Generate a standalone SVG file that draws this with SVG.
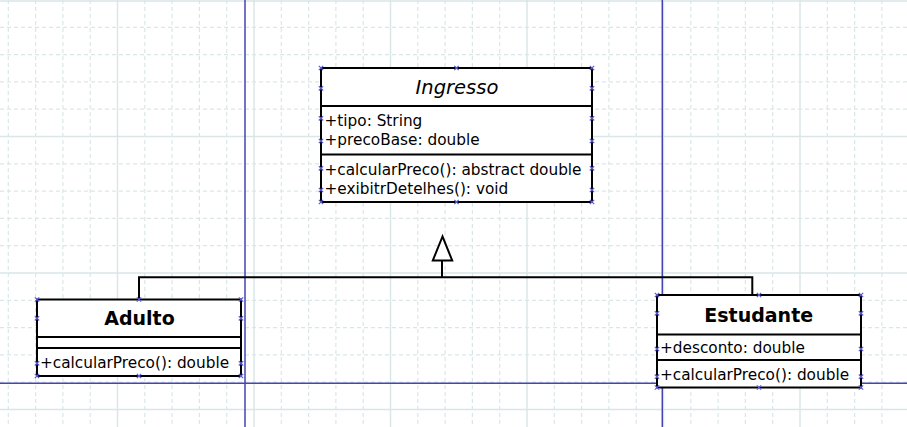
<svg xmlns="http://www.w3.org/2000/svg" xmlns:xlink="http://www.w3.org/1999/xlink" width="907" height="427" viewBox="0 0 907 427">
  <style>
    .gd { stroke: #dbe7e7; stroke-width: 1.2; stroke-dasharray: 4 3; fill: none; }
    .gs { stroke: #d9e6e6; stroke-width: 1.4; fill: none; }
    .guide { stroke: #4444b4; stroke-width: 1.5; fill: none; }
    .box { fill: #ffffff; stroke: #000000; stroke-width: 2; }
    .sep { stroke: #000000; stroke-width: 2; fill: none; }
    .conn { stroke: #000000; stroke-width: 2; fill: none; }
    .t { font-family: "DejaVu Sans", Verdana, sans-serif; font-size: 15.3px; fill: #000000; }
    .title { font-family: "DejaVu Sans", Verdana, sans-serif; font-size: 19px; font-weight: bold; fill: #000000; text-anchor: middle; }
    .ititle { font-family: "DejaVu Sans", Verdana, sans-serif; font-size: 19.5px; font-style: italic; fill: #000000; text-anchor: middle; }
    .hx { stroke: #5a5ad8; stroke-width: 1.2; fill: none; }
  </style>
  <defs>
    <path id="h" class="hx" d="M-2.2,-2.2 L2.2,2.2 M-2.2,2.2 L2.2,-2.2"/>
  </defs>
  <rect x="0" y="0" width="907" height="427" fill="#ffffff"/>
  <g id="grid">
    <path class="gd" d="M8.3,0V427M35.6,0V427M62.9,0V427M90.2,0V427M144.8,0V427M172.1,0V427M199.4,0V427M226.7,0V427M281.3,0V427M308.6,0V427M335.9,0V427M363.2,0V427M417.8,0V427M445.1,0V427M472.4,0V427M499.7,0V427M554.3,0V427M581.6,0V427M608.9,0V427M636.2,0V427M690.8,0V427M718.1,0V427M745.4,0V427M772.7,0V427M827.3,0V427M854.6,0V427M881.9,0V427"/>
    <path class="gd" d="M0,27.3H907M0,54.6H907M0,81.9H907M0,109.2H907M0,163.8H907M0,191.1H907M0,218.4H907M0,245.7H907M0,300.3H907M0,327.6H907M0,354.9H907M0,382.2H907"/>
    <path class="gs" d="M117.5,0V427M254,0V427M390.5,0V427M527,0V427M663.5,0V427M800,0V427M0,1H907M0,136.5H907M0,273H907M0,409.5H907"/>
  </g>
  <g id="guides">
    <path class="guide" d="M245,0V427M662.3,0V427M0,383.3H907"/>
  </g>
  <g id="connectors">
    <path class="conn" d="M139,299.5V277.3H752.3V295"/>
    <path class="conn" d="M442,277.3V260.5"/>
    <polygon class="conn" points="442.5,236.5 432.8,260.5 452.2,260.5" style="fill:#ffffff"/>
  </g>
  <g id="Ingresso">
    <rect class="box" x="321" y="68" width="271" height="134"/>
    <path class="sep" d="M321,106H592M321,154.5H592"/>
    <text class="ititle" x="457" y="94">Ingresso</text>
    <text class="t" x="324.5" y="126">+tipo: String</text>
    <text class="t" x="324.5" y="145">+precoBase: double</text>
    <text class="t" x="324.5" y="174.5">+calcularPreco(): abstract double</text>
    <text class="t" x="324.5" y="194">+exibitrDetelhes(): void</text>
    <use xlink:href="#h" x="321" y="68"/><use xlink:href="#h" x="456.5" y="68"/><use xlink:href="#h" x="592" y="68"/>
    <use xlink:href="#h" x="321" y="88.3"/><use xlink:href="#h" x="592" y="88.3"/>
    <use xlink:href="#h" x="321" y="118.3"/><use xlink:href="#h" x="592" y="118.3"/>
    <use xlink:href="#h" x="321" y="141"/><use xlink:href="#h" x="592" y="141"/>
    <use xlink:href="#h" x="321" y="168.3"/><use xlink:href="#h" x="592" y="168.3"/>
    <use xlink:href="#h" x="321" y="190"/><use xlink:href="#h" x="592" y="190"/>
    <use xlink:href="#h" x="321" y="202"/><use xlink:href="#h" x="456.5" y="202"/><use xlink:href="#h" x="592" y="202"/>
  </g>
  <g id="Adulto">
    <rect class="box" x="37" y="299.5" width="204" height="76.5"/>
    <path class="sep" d="M37,337H241M37,348H241"/>
    <text class="title" x="139.5" y="325">Adulto</text>
    <text class="t" x="40" y="368">+calcularPreco(): double</text>
    <use xlink:href="#h" x="37" y="299.5"/><use xlink:href="#h" x="139" y="299.5"/><use xlink:href="#h" x="241" y="299.5"/>
    <use xlink:href="#h" x="37" y="318.3"/><use xlink:href="#h" x="241" y="318.3"/>
    <use xlink:href="#h" x="37" y="363.3"/><use xlink:href="#h" x="241" y="363.3"/>
    <use xlink:href="#h" x="37" y="376"/><use xlink:href="#h" x="139" y="376"/><use xlink:href="#h" x="241" y="376"/>
  </g>
  <g id="Estudante">
    <rect class="box" x="657" y="295" width="204" height="92.5"/>
    <path class="sep" d="M657,334.5H861M657,360H861"/>
    <text class="title" x="758.7" y="322">Estudante</text>
    <text class="t" x="660" y="353">+desconto: double</text>
    <text class="t" x="660" y="380">+calcularPreco(): double</text>
    <use xlink:href="#h" x="657" y="295"/><use xlink:href="#h" x="759" y="295"/><use xlink:href="#h" x="861" y="295"/>
    <use xlink:href="#h" x="657" y="313.3"/><use xlink:href="#h" x="861" y="313.3"/>
    <use xlink:href="#h" x="657" y="349"/><use xlink:href="#h" x="861" y="349"/>
    <use xlink:href="#h" x="657" y="376.7"/><use xlink:href="#h" x="861" y="376.7"/>
    <use xlink:href="#h" x="657" y="387.5"/><use xlink:href="#h" x="759" y="387.5"/><use xlink:href="#h" x="861" y="387.5"/>
  </g>
</svg>
